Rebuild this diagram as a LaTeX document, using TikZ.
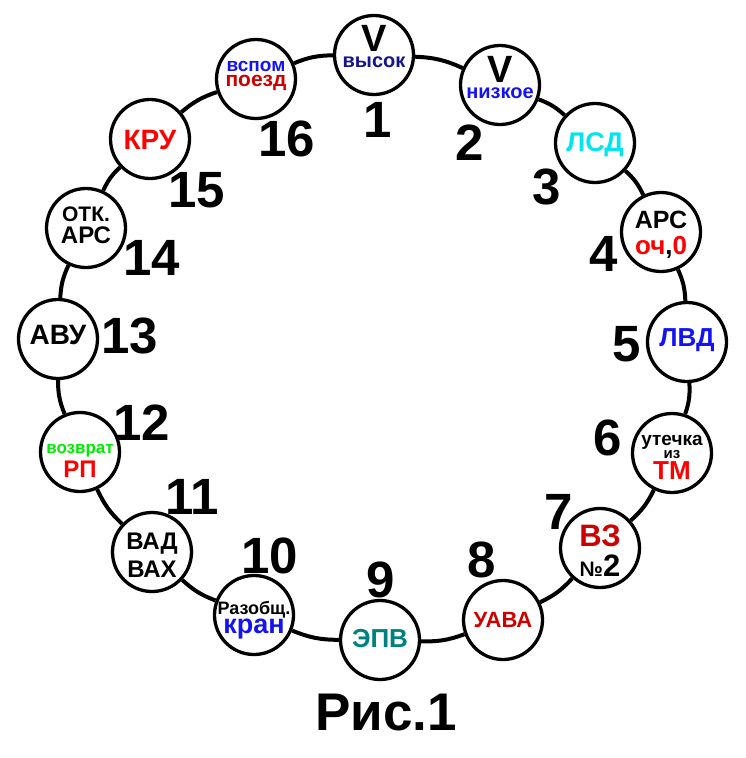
\documentclass[tikz,border=0pt]{standalone}
\usepackage{fontspec}
\setmainfont{Liberation Sans}
\newcommand{\fsz}[1]{\fontsize{#1}{#1}\selectfont}
\definecolor{navytext}{RGB}{20,20,140}
\definecolor{bluetext}{RGB}{20,20,240}
\definecolor{redtext}{RGB}{255,0,0}
\definecolor{darkredtext}{RGB}{204,0,0}
\definecolor{cyantext}{RGB}{0,230,240}
\definecolor{tealtext}{RGB}{0,128,128}
\definecolor{greentext}{RGB}{0,235,0}
\begin{document}
\begin{tikzpicture}
      [
      x=1pt,y=-1pt,
      point/.style={circle,draw,line width=3.3pt,fill=white,inner sep=0pt,minimum size=79pt},
      lab/.style={font=\bfseries\fontsize{10}{#1}\selectfont,align=center,inner sep=0pt},
      num/.style={font=\bfseries\fsz{51},inner sep=0pt},
      link/.style={line width=4pt}
      ]
      \useasboundingbox (0,0) rectangle (746,758);
      \node (1) at (374,55) [point,label={[lab=16,yshift=8pt]center:{\fsz{38}V\\ \fsz{20}\color{navytext}высок}}] {};
      \node (2) at (500,85) [point,label={[lab=16,yshift=7pt]center:{\fsz{38}V\\ \fsz{20}\color{bluetext}низкое}}] {};
      \node (3) at (595,143) [point,label={[lab=27,yshift=-2pt]center:{\fsz{27}\color{cyantext}ЛСД}}] {};
      \node (4) at (661,232) [point,label={[lab=26,yshift=-3pt]center:{\fsz{25}АРС\\ \fsz{26}\color{redtext}оч{\color{black},}0}}] {};
      \node (5) at (687,342) [point,label={[lab=26,yshift=2pt]center:{\fsz{26}\color{bluetext}ЛВД}}] {};
      \node (6) at (672,453) [point,label={[lab=10,yshift=-4pt]center:{\fsz{19}утечка\\ \fsz{15}из\\[2pt] \fsz{26}\color{redtext}ТМ}}] {};
      \node (7) at (600,548) [point,label={[lab=30,yshift=-3pt]center:{\fsz{31}\color{darkredtext}ВЗ\\ \fsz{21}№\fsz{31}2}}] {};
      \node (8) at (503,620) [point,label={[lab=22]center:{\fsz{22}\color{darkredtext}УАВА}}] {};
      \node (9) at (380,640) [point,label={[lab=26,yshift=1pt]center:{\fsz{26}\color{tealtext}ЭПВ}}] {};
      \node (10) at (254,615) [point,label={[lab=15,yshift=-5pt]center:{\fsz{18}Разобщ.\\ \fsz{27}\color{bluetext}кран}}] {};
      \node (11) at (152,552) [point,label={[lab=28,yshift=-3.5pt]center:{\fsz{24}ВАД\\ \fsz{24}ВАХ}}] {};
      \node (12) at (80,452) [point,label={[lab=24,yshift=-9pt]center:{\fsz{17}\color{greentext}возврат\\ \fsz{24}\color{redtext}РП}}] {};
      \node (13) at (58,339) [point,label={[lab=28,yshift=4pt]center:{\fsz{28}АВУ}}] {};
      \node (14) at (86,228) [point,label={[lab=22,yshift=3pt]center:{\fsz{21}ОТК.\\ \fsz{24}АРС}}] {};
      \node (15) at (150,139) [point,label={[lab=28,yshift=-1pt]center:{\fsz{28}\color{redtext}КРУ}}] {};
      \node (16) at (256,79) [point,label={[lab=15,yshift=3pt]center:{\fsz{19}\color{bluetext}вспом\\ \fsz{21}\color{darkredtext}поезд}}] {};
      \draw [link, bend left=11] (1) to (2);
      \draw [link, bend left=11] (2) to (3);
      \draw [link, bend left=11] (3) to (4);
      \draw [link, bend left=11] (4) to (5);
      \draw [link, bend left=11] (5) to (6);
      \draw [link, bend left=11] (6) to (7);
      \draw [link, bend left=11] (7) to (8);
      \draw [link, bend left=11] (8) to (9);
      \draw [link, bend left=11] (9) to (10);
      \draw [link, bend left=11] (10) to (11);
      \draw [link, bend left=11] (11) to (12);
      \draw [link, bend left=11] (12) to (13);
      \draw [link, bend left=11] (13) to (14);
      \draw [link, bend left=11] (14) to (15);
      \draw [link, bend left=11] (15) to (16);
      \draw [link, bend left=11] (16) to (1);
      \node (num1) at (378,120) [num] {1};
      \node (num2) at (470,143) [num] {2};
      \node (num3) at (547,187) [num] {3};
      \node (num4) at (604,254) [num] {4};
      \node (num5) at (627,344) [num] {5};
      \node (num6) at (608,438) [num] {6};
      \node (num7) at (559,512) [num] {7};
      \node (num8) at (482,560) [num] {8};
      \node (num9) at (381,580) [num] {9};
      \node (num10) at (270,556) [num] {10};
      \node (num11) at (192,497) [num] {11};
      \node (num12) at (142,423) [num] {12};
      \node (num13) at (130,336) [num] {13};
      \node (num14) at (152,258) [num] {14};
      \node (num15) at (197,190) [num] {15};
      \node (num16) at (287,139) [num] {16};
      \node (caption) at (386,712.5) [font=\bfseries\fsz{53},inner sep=0pt] {Рис.1};
    \end{tikzpicture}
\end{document}
